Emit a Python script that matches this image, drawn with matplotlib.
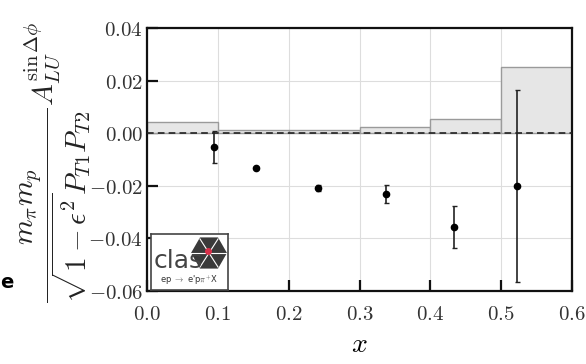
import matplotlib
matplotlib.use("Agg")
import matplotlib.pyplot as plt
from matplotlib.ticker import FuncFormatter
from matplotlib.patches import RegularPolygon
import numpy as np

plt.rcParams['mathtext.fontset'] = 'cm'

# data
x_vals = [0.094, 0.154, 0.242, 0.338, 0.434, 0.523]
y_vals = [-0.0053, -0.0132, -0.0208, -0.0230, -0.0358, -0.0200]
y_errs = [0.0062, 0.0004, 0.0012, 0.0034, 0.0080, 0.0366]
sys_edges = [0.0, 0.1, 0.2, 0.3, 0.4, 0.5]
sys_heights = [0.0043, 0.0011, 0.0013, 0.0025, 0.0055, 0.0250]
xticks = [0.0, 0.1, 0.2, 0.3, 0.4, 0.5, 0.6]
yticks = [-0.06, -0.04, -0.02, 0.00, 0.02, 0.04]

fig = plt.figure(figsize=(5.86, 3.64), dpi=100)
ax = fig.add_axes([147/586, 1-291/364, 425/586, 263/364])

ax.bar(sys_edges, sys_heights, width=0.1, align='edge', color='#e6e6e6',
       edgecolor='#9a9a9a', linewidth=1.0, zorder=2)
ax.axhline(0, color='#222222', linestyle=(0, (4, 2.5)), linewidth=1.2, zorder=3)
ax.errorbar(x_vals, y_vals, yerr=y_errs, fmt='o', color='black', ecolor='#222222',
            markersize=4.5, elinewidth=1.2, capsize=1.8, capthick=1.0, zorder=4)

ax.set_xlim(0, 0.6)
ax.set_ylim(-0.06, 0.04)
ax.set_xticks(xticks)
ax.set_yticks(yticks)
ax.xaxis.set_major_formatter(FuncFormatter(lambda v, p: r'$%.1f$' % v))
ax.yaxis.set_major_formatter(FuncFormatter(lambda v, p: r'$%.2f$' % (0.0 if abs(v) < 1e-9 else v)))
ax.tick_params(axis='both', direction='in', length=8, width=1.6, labelsize=15,
               labelcolor='#333333', color='#111111', top=False, right=False)
ax.tick_params(axis='x', pad=9)
ax.tick_params(axis='y', pad=3)
ax.grid(True, color='#dddddd', linewidth=0.8, zorder=0)
ax.set_axisbelow(True)
for s in ax.spines.values():
    s.set_linewidth(1.6)
    s.set_color('#111111')

ax.set_xlabel(r'$x$', fontsize=20, labelpad=5)

fig.text(56/586, 1-162/364,
         r'$\dfrac{m_\pi m_p}{\sqrt{1-\epsilon^2}P_{T1}P_{T2}}A_{LU}^{\sin\Delta\phi}$',
         rotation=90, ha='center', va='center', fontsize=21, color='#222222')

# stray cropped character at left edge
fig.text(0.0, 1-283/364, 'e', fontsize=14, fontweight='bold', ha='left', va='center',
         color='black')

# CLAS logo inset
lax = fig.add_axes([151/586, 1-290/364, 77/586, 56/364])
lax.set_xlim(0, 77)
lax.set_ylim(0, 56)
lax.set_xticks([])
lax.set_yticks([])
lax.patch.set_facecolor('white')
for s in lax.spines.values():
    s.set_linewidth(1.2)
    s.set_color('#444444')
cx, cy, r = 58, 37, 18
hexp = RegularPolygon((cx, cy), numVertices=6, radius=r, orientation=np.pi/6,
                      facecolor='#3a3a3a', edgecolor='none')
lax.add_patch(hexp)
for k in range(6):
    a = np.pi/3 + k*np.pi/3
    lax.plot([cx, cx + r*np.cos(a)], [cy, cy + r*np.sin(a)*0.9], color='white', lw=0.8)
lax.plot([cx-1], [cy+2], 'o', color='#d9304a', markersize=4)
lax.text(3, 22, 'clas', fontsize=18, color='#444444', ha='left', va='baseline',
         family='DejaVu Sans')
lax.text(38, 10, r"ep $\rightarrow$ e'p$\pi^{+}$X", fontsize=6, color='#333333',
         ha='center', va='center', family='DejaVu Sans')

fig.savefig('out.png', dpi=100)
